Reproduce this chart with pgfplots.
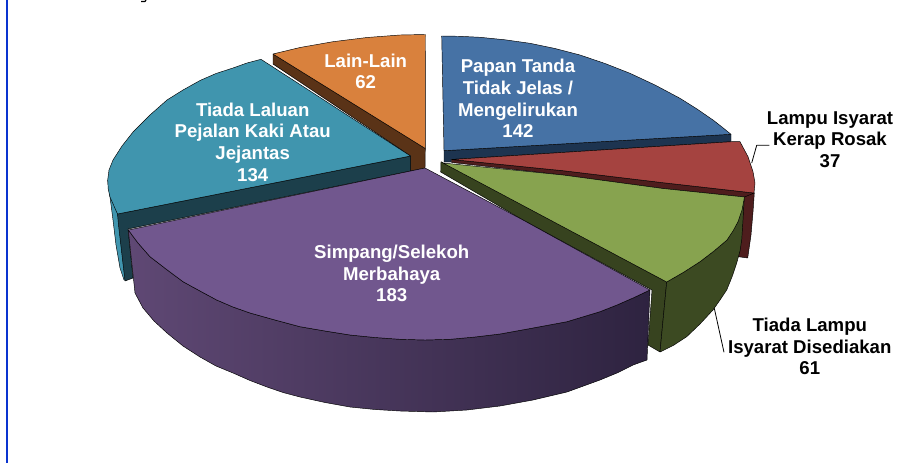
\documentclass[border=0pt]{standalone}
\usepackage{pgfplots}
\pgfplotsset{compat=1.18}
\usepackage{fontspec}
\setmainfont{Liberation Sans}
\definecolor{cblue}{HTML}{4672A5}
\definecolor{cblueD}{HTML}{1D3450}
\definecolor{cred}{HTML}{A54340}
\definecolor{credD}{HTML}{4E1D1D}
\definecolor{cgreen}{HTML}{87A34F}
\definecolor{cgreenD}{HTML}{37431F}
\definecolor{cgreenO}{HTML}{3C4A22}
\definecolor{cpurple}{HTML}{71578E}
\definecolor{cpurpleL}{HTML}{5F4874}
\definecolor{cpurpleM}{HTML}{46355C}
\definecolor{cpurpleR}{HTML}{2E2340}
\definecolor{cteal}{HTML}{4095AE}
\definecolor{ctealD}{HTML}{1C3F4B}
\definecolor{corange}{HTML}{D9813D}
\definecolor{cbrown}{HTML}{5A3317}
\definecolor{frameblue}{HTML}{0A34D0}
\begin{document}
\begin{tikzpicture}
\begin{axis}[
  scale only axis, width=911pt, height=463pt,
  xmin=0, xmax=911, ymin=0, ymax=463, y dir=reverse,
  axis line style={draw=none}, ticks=none, no markers, clip=true,
  every axis plot/.append style={line width=0.45pt, draw=black, line join=round},
]
% frame line and leftover descender
\addplot[draw=frameblue, line width=2.2pt] coordinates {(7,0) (7,463)};
\addplot[draw=black, line width=1.2pt] coordinates {(141,1.5) (145,1.5) (146,0)};
% orange wall
\addplot[fill=cbrown] coordinates {(273,54) (273,64) (410.7,156) (410.7,171) (425,168) (425.3,148.5)} -- cycle;
% orange top
\addplot[fill=corange] coordinates {(425.3,148.5) (425.5,34.5) (400,35) (367,37.5) (333,41.7) (300,47.5) (273,54)} -- cycle;
% teal outer wall and dark end
\addplot[fill=cteal] coordinates {(107.7,180) (110,197) (113,220) (116,245) (120,268) (124,280) (127,280) (118,214)} -- cycle;
\addplot[fill=ctealD] coordinates {(117.5,214) (410.7,156) (410.7,171) (128,229) (133,278) (125,281) (118.5,225)} -- cycle;
% teal top
\addplot[fill=cteal] coordinates {(410.5,156) (261,59.3) (247,63) (233,68) (216,73.5) (200,80.5) (183,90) (167,100) (150,115) (133,132) (122,146) (113,160) (109,170) (107.7,180) (108.2,189) (110,197) (117.5,214)} -- cycle;
% blue wall and top
\addplot[fill=cblueD] coordinates {(444,150.7) (731,134.3) (731,141.7) (451,159.5) (451,162) (444,162)} -- cycle;
\addplot[fill=cblue] coordinates {(444,150.7) (441.7,36) (460,36.3) (480,37.3) (505,39.8) (530,43.3) (555,48.5) (580,55) (605,63.5) (630,73.3) (655,85) (680,98.3) (697,109) (713,120) (722,127) (731,134.3)} -- cycle;
% red outer wall
\addplot[fill=credD] coordinates {(744,196) (754.3,193) (753,212) (751,235) (747.7,258) (738.3,256.7) (742,225)} -- cycle;
% red strip and top
\addplot[fill=credD] coordinates {(451.7,159.5) (563,170.7) (663,182.7) (754,193) (744.5,197) (663,188.5) (563,175) (451.7,162.5)} -- cycle;
\addplot[fill=cred] coordinates {(451.7,159.5) (731.7,141.7) (740,141.7) (748,156.7) (753,171.7) (755,183) (754,193) (663,182.7) (563,170.7)} -- cycle;
% green inner and outer wall
\addplot[fill=cgreenD] coordinates {(441,161.7) (440.7,172) (523,220) (652,290) (648,345) (660,352) (666.7,282)} -- cycle;
\addplot[fill=cgreenO] coordinates {(666.7,282) (660,352) (674,345) (686.7,336.7) (700,324) (713,310) (720,300) (726.7,290) (732,277) (736.7,263) (740,251) (741.7,240) (743,220) (744.3,197) (738,221.7) (727,240) (714,251) (700,261.7) (684,272)} -- cycle;
% green top
\addplot[fill=cgreen] coordinates {(443,163) (563,175) (663,188.5) (744.5,197) (742,210) (738,221.7) (733,231) (727,240) (714,251) (700,261.7) (684,272) (666.7,282)} -- cycle;
% purple wall
\addplot[left color=cpurpleL, middle color=cpurpleM, right color=cpurpleR] coordinates {(128.3,230) (135,293) (143,308) (154,321) (167,333) (183,346) (200,357) (216,366) (233,373) (250,380.5) (267,387) (283,392.5) (300,397) (325,402.5) (350,407) (375,409.5) (400,411) (433,412) (467,410) (500,406) (533,400) (567,392) (600,380) (617,373) (633,365) (647,360) (650,290) (633,298) (617,305) (600,311.7) (567,321.7) (533,328) (500,334) (475,337) (450,339.3) (425,340) (400,339.3) (375,337.5) (350,335) (325,331) (300,326.7) (275,320) (250,313) (233,307) (216.7,300) (200,291) (183,281.7) (166,269) (150,256.7) (138,243)} -- cycle;
% purple top
\addplot[fill=cpurple] coordinates {(425,168) (128.3,230) (138,243) (150,256.7) (166,269) (183,281.7) (200,291) (216.7,300) (233,307) (250,313) (275,320) (300,326.7) (325,331) (350,335) (375,337.5) (400,339.3) (425,340) (450,339.3) (475,337) (500,334) (533,328) (567,321.7) (600,311.7) (617,305) (633,298) (650,290) (523,220)} -- cycle;
% leader lines
\addplot[line width=0.8pt] coordinates {(769.3,145.3) (756.7,145.3) (751.7,163)};
\addplot[line width=0.8pt] coordinates {(724,352.3) (714.3,308.3)};
% labels
\tikzset{lab/.style={font=\fontsize{18.6}{21.7}\selectfont\bfseries, align=center, inner sep=0pt}}
\node[lab,text=white] at (axis cs:365.7,71.5) {Lain-Lain\\62};
\node[lab,text=white] at (axis cs:252.7,142) {Tiada Laluan\\Pejalan Kaki Atau\\Jejantas\\134};
\node[lab,text=white] at (axis cs:518,98.5) {Papan Tanda\\Tidak Jelas /\\Mengelirukan\\142};
\node[lab,text=white] at (axis cs:391.7,273.5) {Simpang/Selekoh\\Merbahaya\\183};
\node[lab,text=black] at (axis cs:830,139.5) {Lampu Isyarat\\Kerap Rosak\\37};
\node[lab,text=black] at (axis cs:809.8,346.5) {Tiada Lampu\\Isyarat Disediakan\\61};
\end{axis}
\end{tikzpicture}
\end{document}
